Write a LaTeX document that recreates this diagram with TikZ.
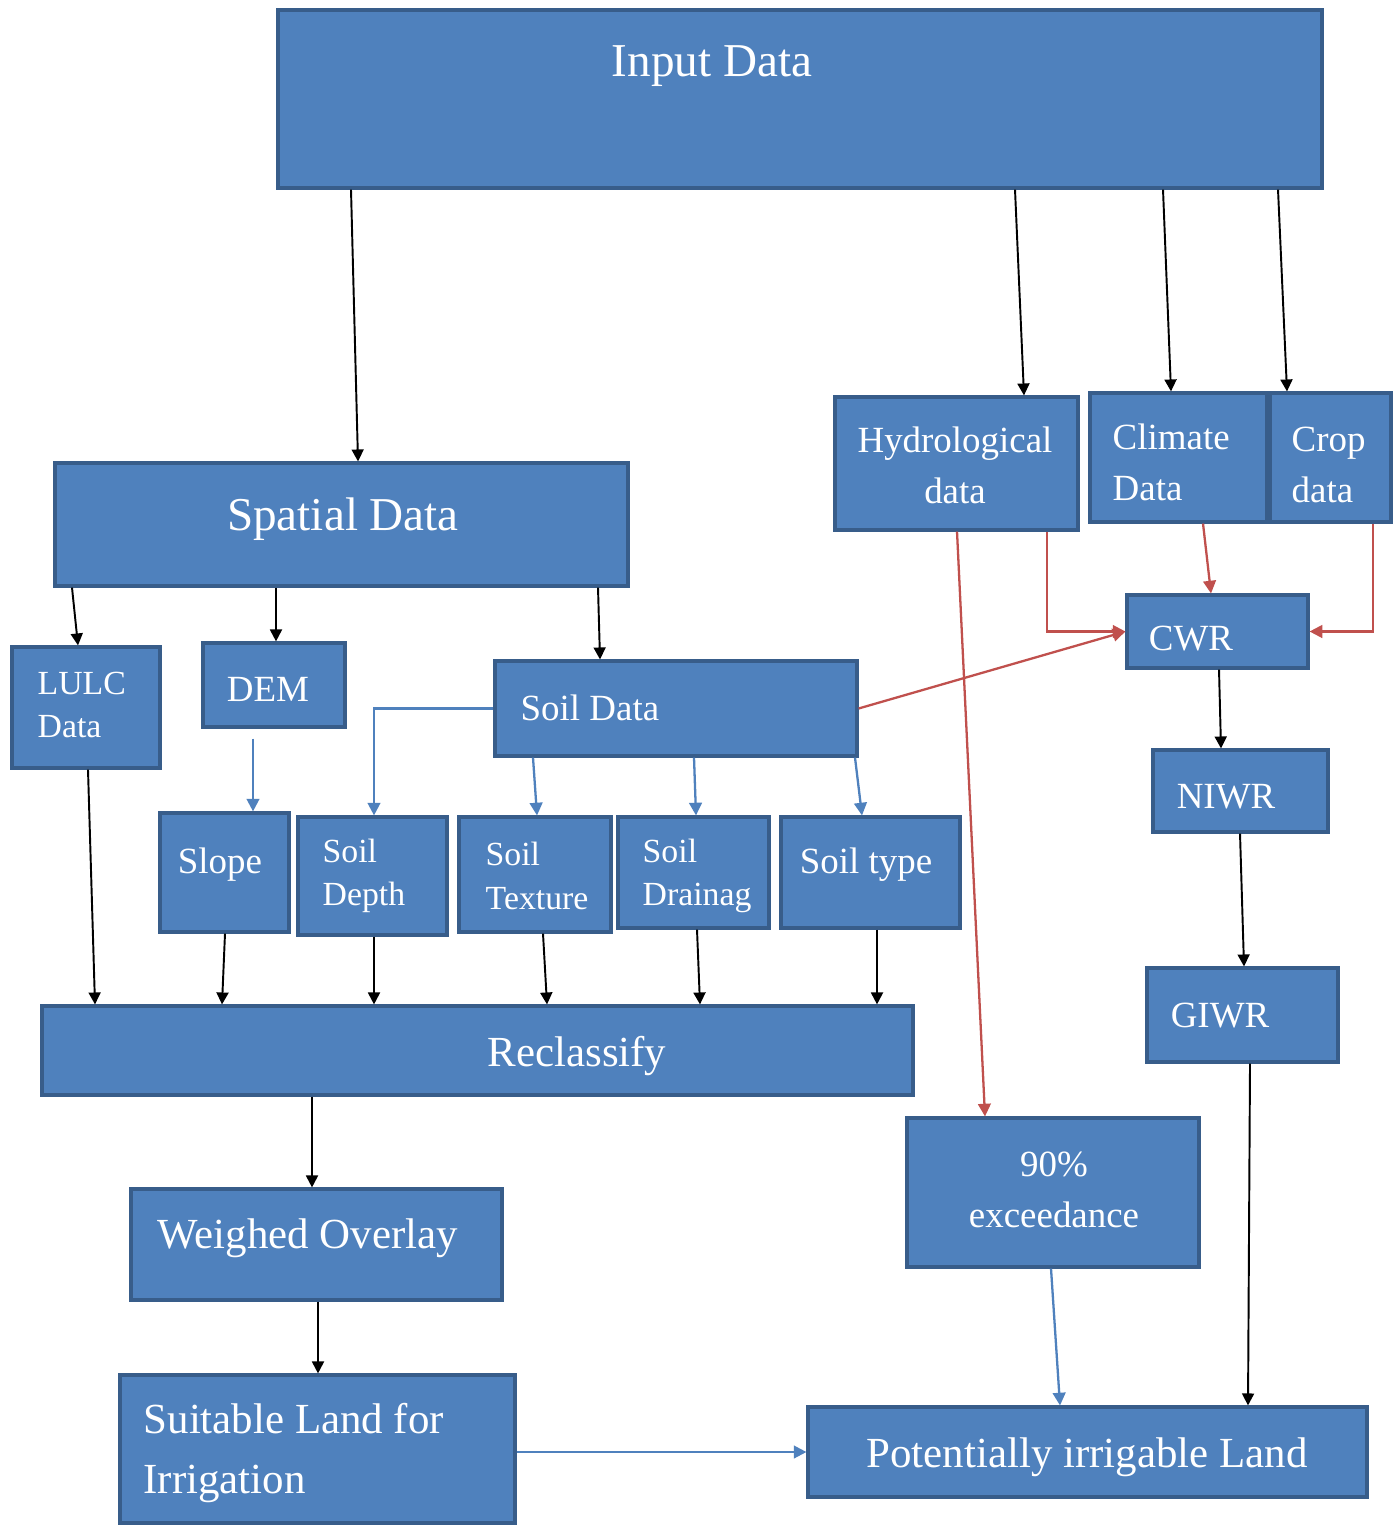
\documentclass[tikz,border=0pt]{standalone}
\usepackage{fontspec}
\setmainfont{Liberation Serif}
\usetikzlibrary{arrows.meta,fit,calc}
\definecolor{boxfill}{HTML}{4F81BD}
\definecolor{boxline}{HTML}{385D8A}
\definecolor{redline}{HTML}{C0504D}
\definecolor{blueline}{HTML}{4F81BD}
\newcommand\fbig{\fontsize{13.4}{16}\selectfont}
\newcommand\fmid{\fontsize{12.2}{16.8}\selectfont}
\newcommand\fsmall{\fontsize{10.5}{14.5}\selectfont}
\newcommand\fsmallt{\fontsize{9.6}{12.4}\selectfont}
\begin{document}
\begin{tikzpicture}[x=0.01cm,y=-0.01cm,
  box/.style={draw=boxline, fill=boxfill, line width=0.9pt, inner sep=0pt},
  txt/.style={text=white, inner sep=0pt},
  karr/.style={draw=black, line width=0.55pt, -{Triangle[length=3.4pt,width=3.4pt]}},
  rarr/.style={draw=redline, line width=0.65pt, -{Triangle[length=3.6pt,width=3.6pt]}},
  barr/.style={draw=blueline, line width=0.65pt, -{Triangle[length=3.6pt,width=3.6pt]}}]
\fill[white] (0,0) rectangle (1393,1525);
\useasboundingbox (0,0) rectangle (1393,1525);

% boxes
\node[box, fit={(278,10) (1322,188)}] (inp) {};
\node[box, fit={(55,463) (628,586)}] (sp) {};
\node[box, fit={(835,397) (1078,530)}] (hyd) {};
\node[box, fit={(1090,393) (1267,522)}] (cli) {};
\node[box, fit={(1270,393) (1391,522)}] (crop) {};
\node[box, fit={(1127,595) (1308,668)}] (cwr) {};
\node[box, fit={(1153,750) (1328,832)}] (niwr) {};
\node[box, fit={(1147,968) (1338,1062)}] (giwr) {};
\node[box, fit={(12,647) (160,768)}] (lulc) {};
\node[box, fit={(203,643) (345,727)}] (dem) {};
\node[box, fit={(495,661) (857,756)}] (soil) {};
\node[box, fit={(160,813) (289,932)}] (slope) {};
\node[box, fit={(298,817) (447,935)}] (depth) {};
\node[box, fit={(459,817) (611,932)}] (tex) {};
\node[box, fit={(618,817) (769,928)}] (drain) {};
\node[box, fit={(781,817) (960,928)}] (stype) {};
\node[box, fit={(42,1006) (913,1095)}] (recl) {};
\node[box, fit={(907,1118) (1199,1267)}] (exc) {};
\node[box, fit={(131,1189) (502,1300)}] (wov) {};
\node[box, fit={(120,1375) (515,1523)}] (suit) {};
\node[box, fit={(808,1407) (1367,1497)}] (pot) {};

% texts
\node[txt, font=\fbig] (inpT) at (712,66) {Input Data};
\node[txt, font=\fbig] (spT) at (343,519) {Spatial Data};
\node[txt, font=\fsmall, align=center] (hydT) at (955,465) {Hydrological\\data};
\node[txt, font=\fsmall, align=left, anchor=west] (cliT) at (1112,462) {Climate\\Data};
\node[txt, font=\fsmall, align=left, anchor=west] (cropT) at (1291,465) {Crop\\data};
\node[txt, font=\fsmall] (cwrT) at (1191,639) {CWR};
\node[txt, font=\fsmall] (niwrT) at (1226,797) {NIWR};
\node[txt, font=\fsmall] (giwrT) at (1220,1016) {GIWR};
\node[txt, font=\fsmallt, align=left, anchor=west] (lulcT) at (37,705) {LULC\\Data};
\node[txt, font=\fsmall] (demT) at (268,689) {DEM};
\node[txt, font=\fsmall, anchor=west] (soilT) at (520,708) {Soil Data};
\node[txt, font=\fsmall] (slopeT) at (220,865) {Slope};
\node[txt, font=\fsmallt, align=left, anchor=west] (depthT) at (322,876) {Soil\\Depth};
\node[txt, font=\fsmallt, align=left, anchor=west] (texT) at (485,876) {Soil\\Texture};
\node[txt, font=\fsmallt, align=left, anchor=west] (drainT) at (642,876) {Soil\\Drainag};
\node[txt, font=\fsmall] (stypeT) at (866,865) {Soil type};
\node[txt, font=\fmid] (reclT) at (577,1056) {Reclassify};
\node[txt, font=\fsmall, align=center] (excT) at (1054,1190) {90\%\\exceedance};
\node[txt, font=\fmid, anchor=west] (wovT) at (157,1238) {Weighed Overlay};
\node[txt, font=\fmid, align=left, anchor=west] (suitT) at (143,1453) {Suitable Land for\\Irrigation};
\node[txt, font=\fmid] (potT) at (1087,1457) {Potentially irrigable Land};

% black connectors
\draw[karr] (inp.south -| 351,0) -- (sp.north -| 358,0);
\draw[karr] (inp.south -| 1015,0) -- (hyd.north -| 1024,0);
\draw[karr] (inp.south -| 1163,0) -- (cli.north -| 1171,0);
\draw[karr] (inp.south -| 1278,0) -- (crop.north -| 1287,0);
\draw[karr] (sp.south -| 72,0) -- (lulc.north -| 78,0);
\draw[karr] (sp.south -| 276,0) -- (dem.north -| 276,0);
\draw[karr] (sp.south -| 598,0) -- (soil.north -| 600,0);
\draw[karr] (cwr.south -| 1219,0) -- (niwr.north -| 1221,0);
\draw[karr] (niwr.south -| 1240,0) -- (giwr.north -| 1244,0);
\draw[karr] (giwr.south -| 1250,0) -- (pot.north -| 1248,0);
\draw[karr] (lulc.south -| 88,0) -- (recl.north -| 95,0);
\draw[karr] (slope.south -| 225,0) -- (recl.north -| 222,0);
\draw[karr] (depth.south -| 374,0) -- (recl.north -| 374,0);
\draw[karr] (tex.south -| 543,0) -- (recl.north -| 547,0);
\draw[karr] (drain.south -| 697,0) -- (recl.north -| 700,0);
\draw[karr] (stype.south -| 877,0) -- (recl.north -| 877,0);
\draw[karr] (recl.south -| 312,0) -- (wov.north -| 312,0);
\draw[karr] (wov.south -| 318,0) -- (suit.north -| 318,0);

% red connectors
\draw[rarr] (hyd.south -| 1047,0) |- (cwr.west);
\draw[rarr] (cli.south -| 1203,0) -- (cwr.north -| 1211,0);
\draw[rarr] (crop.south -| 1373,0) |- (cwr.east);
\draw[rarr] (soil.east) -- (cwr.west);
\draw[rarr] (hyd.south -| 957,0) -- (exc.north -| 985,0);

% blue connectors
\draw[barr] ($(dem.south -| 253,0)+(0,10)$) -- (slope.north -| 253,0);
\draw[barr] (soil.west) -| (depth.north -| 374,0);
\draw[barr] (soil.south -| 533,0) -- (tex.north -| 537,0);
\draw[barr] (soil.south -| 694,0) -- (drain.north -| 696,0);
\draw[barr] (soil.south -| 855,0) -- (stype.north -| 862,0);
\draw[barr] (exc.south -| 1051,0) -- (pot.north -| 1060,0);
\draw[barr] (suit.east |- pot.west) -- (pot.west);
\end{tikzpicture}
\end{document}
